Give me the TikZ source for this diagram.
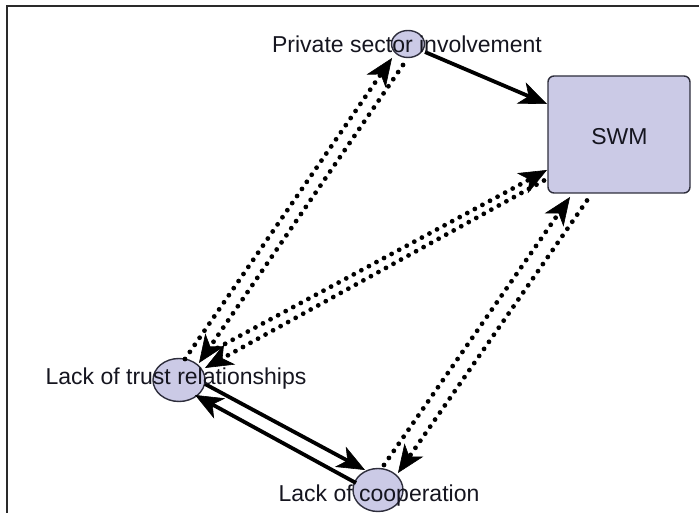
\documentclass[tikz,border=0pt]{standalone}
\usepackage{fontspec}
\setmainfont{Liberation Sans}
\usetikzlibrary{arrows.meta,shapes.geometric,calc}

\definecolor{nodefill}{HTML}{CBCAE6}
\definecolor{nodeedge}{HTML}{2E2E3C}
\definecolor{txt}{HTML}{15151F}
\definecolor{framec}{HTML}{2A2A2A}

\tikzset{
  bubble/.style={ellipse, draw=nodeedge, fill=nodefill, line width=1.4pt, inner sep=0pt},
  boxnode/.style={rectangle, rounded corners=6pt, draw=nodeedge, fill=nodefill, line width=1.4pt,
    minimum width=142pt, minimum height=117pt, inner sep=0pt},
  lbl/.style={anchor=base, text=txt, inner sep=0pt, font=\fontsize{23}{27}\selectfont},
  tip/.style={-{Stealth[length=28pt,width=23pt,inset=8pt,line width=0.6pt]}},
  solidlink/.style={tip, line width=3.8pt, draw=black},
  dotlink/.style={tip, line width=4.8pt, draw=black, line cap=round, dash pattern=on 0pt off 8.6pt},
}

\begin{document}
\begin{tikzpicture}[x=1pt,y=1pt]
  \useasboundingbox (0,0) rectangle (699,513);

  % outer frame (top and left edges)
  \draw[framec, line width=2pt] (6.8,0) -- (6.8,506.5) -- (699,506.5);

  % nodes
  \node[bubble, minimum width=33pt, minimum height=27pt] (ps) at (408,469) {};
  \node[boxnode] (swm) at (619,378.5) {};
  \node[bubble, minimum width=52pt, minimum height=43pt] (trust) at (179,133) {};
  \node[bubble, minimum width=50pt, minimum height=43pt] (coop) at (378,23) {};

  % private sector -> SWM
  \draw[solidlink] ($(ps)+(17,-8)$) -- ($(swm)+(-72,30.5)$);

  % trust <-> private sector
  \draw[dotlink] ($(trust)+(6,21)$) -- ($(ps)+(-16,-14)$);
  \draw[dotlink] ($(ps)+(-5,-21)$) -- ($(trust)+(20,17)$);

  % trust <-> SWM
  \draw[dotlink] ($(trust)+(31,28)$) -- ($(swm)+(-72,-35.5)$);
  \draw[dotlink] ($(swm)+(-75,-46)$) -- ($(trust)+(26,12)$);

  % cooperation <-> SWM
  \draw[dotlink] ($(coop)+(6,25)$) -- ($(swm)+(-49,-62.5)$);
  \draw[dotlink] ($(swm)+(-32,-66)$) -- ($(coop)+(20,17)$);

  % trust <-> cooperation
  \draw[solidlink] ($(trust)+(26,-4)$) -- ($(coop)+(-13,20)$);
  \draw[solidlink] ($(coop)+(-22,7)$) -- ($(trust)+(16,-15)$);

  % labels
  \node[lbl] (pslbl) at ($(ps)+(-1,-9)$) {Private sector involvement};
  \node[lbl] (swmlbl) at ($(swm)+(0.5,-10.5)$) {SWM};
  \node[lbl] (trustlbl) at ($(trust)+(-3,-5)$) {Lack of trust relationships};
  \node[lbl] (cooplbl) at ($(coop)+(1,-12)$) {Lack of cooperation};
\end{tikzpicture}
\end{document}
